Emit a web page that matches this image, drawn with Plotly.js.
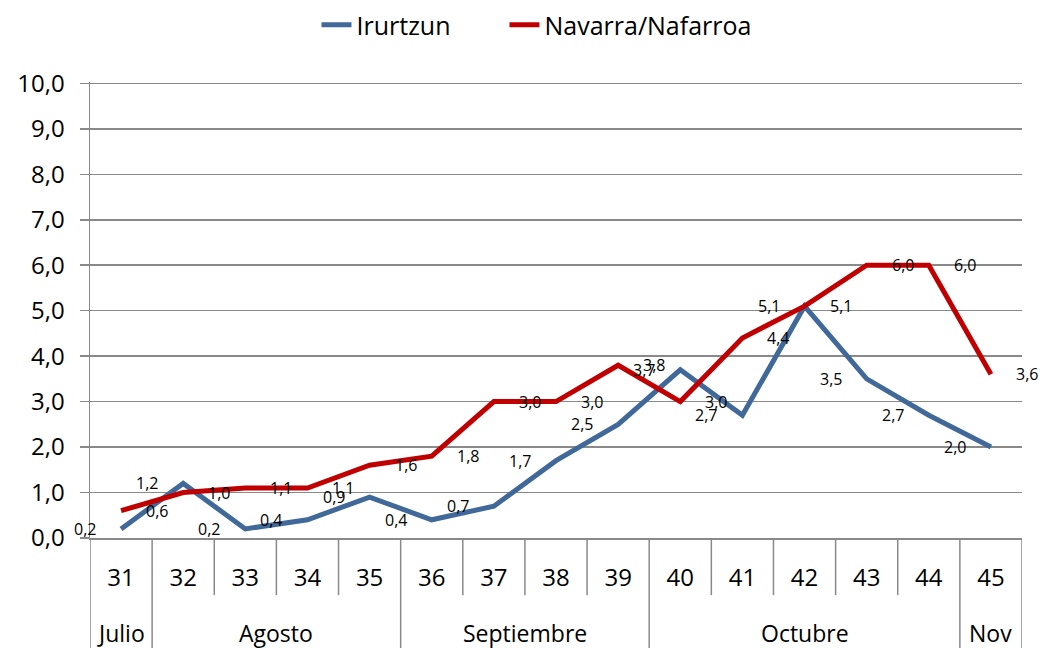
<!DOCTYPE html>
<html>
<head>
<meta charset="utf-8">
<script src="https://cdn.plot.ly/plotly-3.0.1.min.js"></script>
<style>html,body{margin:0;padding:0;background:#fff;}#chart{width:1043px;height:648px;}</style>
</head>
<body>
<div id="chart"></div>
<script>
const weeks = ['31','32','33','34','35','36','37','38','39','40','41','42','43','44','45'];
const irurtzun = [0.2, 1.2, 0.2, 0.4, 0.9, 0.4, 0.7, 1.7, 2.5, 3.7, 2.7, 5.1, 3.5, 2.7, 2.0];
const navarra  = [0.6, 1.0, 1.1, 1.1, 1.6, 1.8, 3.0, 3.0, 3.8, 3.0, 4.4, 5.1, 6.0, 6.0, 3.6];
const months = ['Julio', 'Agosto', 'Septiembre', 'Octubre', 'Nov'];
const monthSpan = [1, 4, 4, 5, 1];
const seriesNames = ['Irurtzun', 'Navarra/Nafarroa'];
const yTicks = [0, 1, 2, 3, 4, 5, 6, 7, 8, 9, 10];

const FONT = 'Open Sans, Lato, sans-serif';
const GRAY = '#898989';
const BLUE = '#40699A';
const RED = '#C00000';

const fmt = v => v.toFixed(1).replace('.', ',');

const traces = [
  {x: weeks, y: irurtzun, name: seriesNames[0], type: 'scatter', mode: 'lines',
   line: {color: BLUE, width: 5}, legend: 'legend'},
  {x: weeks, y: navarra, name: seriesNames[1], type: 'scatter', mode: 'lines',
   line: {color: RED, width: 5}, legend: 'legend2'}
];

const annotations = [];
weeks.forEach((w, i) => {
  annotations.push({x: i, y: irurtzun[i], xref: 'x', yref: 'y', text: fmt(irurtzun[i]), showarrow: false,
    xshift: -36, font: {family: FONT, size: 16, color: '#000'}});
  annotations.push({x: i, y: navarra[i], xref: 'x', yref: 'y', text: fmt(navarra[i]), showarrow: false,
    xshift: 36, font: {family: FONT, size: 16, color: '#000'}});
});

// month boundaries and labels
const plotH = 455;
const shortY = -57 / plotH;
const longY = -110 / plotH;
const monthLabelY = -95 / plotH;
const monthEdges = new Set();
let start = 0;
months.forEach((m, k) => {
  const end = start + monthSpan[k];
  monthEdges.add(start); monthEdges.add(end);
  annotations.push({x: (start + end - 1) / 2, y: monthLabelY, yref: 'paper', xref: 'x',
    text: m, showarrow: false, yanchor: 'middle',
    font: {family: FONT, size: 23, color: '#000'}});
  start = end;
});
const shapes = [];
for (let b = 0; b <= weeks.length; b++) {
  shapes.push({type: 'line', xref: 'x', yref: 'paper', x0: b - 0.5, x1: b - 0.5,
    y0: 0, y1: monthEdges.has(b) ? longY : shortY,
    line: {color: GRAY, width: 1.5}});
}

const legendFont = {family: FONT, size: 25, color: '#000'};
const layout = {
  width: 1043, height: 648,
  margin: {l: 90, r: 21, t: 82, b: 110, autoexpand: false},
  paper_bgcolor: '#fff', plot_bgcolor: '#fff',
  separators: ',.',
  font: {family: FONT, color: '#000'},
  showlegend: true,
  legend: {orientation: 'h', x: 0.243, xanchor: 'left', y: 1.125, yanchor: 'middle', font: legendFont},
  legend2: {orientation: 'h', x: 0.4447, xanchor: 'left', y: 1.125, yanchor: 'middle', font: legendFont},
  xaxis: {type: 'category', range: [-0.5, weeks.length - 0.5], showgrid: false,
    zeroline: false, showline: true, linecolor: GRAY, linewidth: 1.5, ticks: '',
    ticklabelstandoff: 18, tickfont: {family: FONT, size: 24, color: '#000'}, fixedrange: true},
  yaxis: {range: [0, 10.03], tickvals: yTicks, tickformat: '.1f', showgrid: true,
    gridcolor: GRAY, gridwidth: 1.5, zeroline: false, showline: true, linecolor: GRAY,
    linewidth: 1.5, ticks: 'outside', ticklen: 9, tickcolor: GRAY, tickwidth: 1.5,
    ticklabelstandoff: 10,
    tickfont: {family: FONT, size: 24, color: '#000'}, fixedrange: true},
  annotations: annotations,
  shapes: shapes
};

Plotly.newPlot('chart', traces, layout, {displayModeBar: false, staticPlot: true});
</script>
</body>
</html>
